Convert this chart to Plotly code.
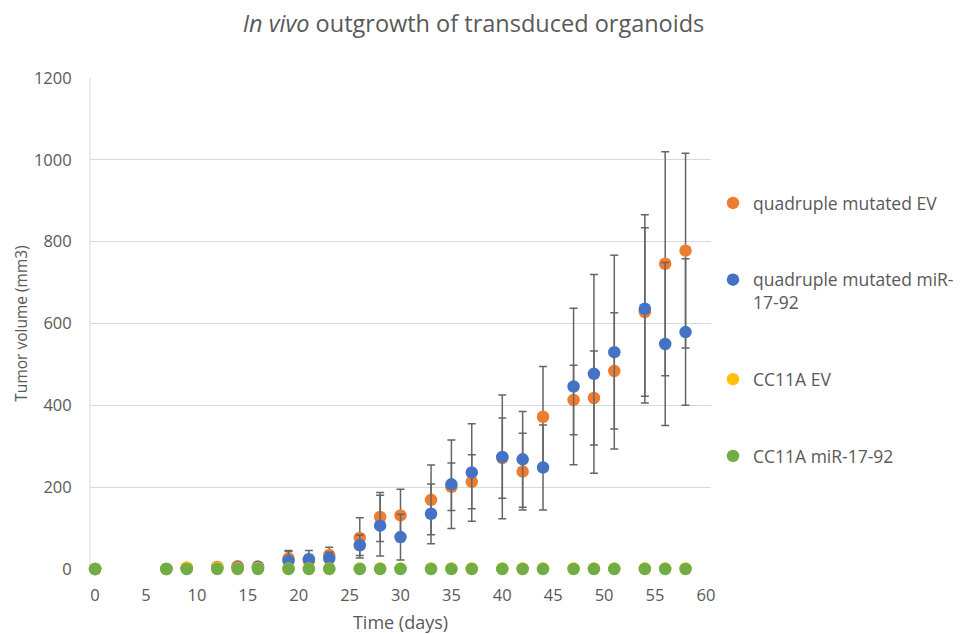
import plotly.graph_objects as go

days = [0, 7, 9, 12, 14, 16, 19, 21, 23, 26, 28, 30, 33, 35, 37, 40, 42, 44, 47, 49, 51, 54, 56, 58]

quad_ev = [0, 0, 3, 5, 7, 6, 26, 20, 34, 76, 127, 131, 169, 201, 213, 271, 238, 372, 413, 418, 484, 628, 746, 778]
quad_ev_err = [0, 0, 2, 3, 4, 4, 17, 15, 19, 49, 60, 64, 85, 58, 66, 98, 94, 123, 85, 115, 142, 206, 274, 238]

quad_mir = [0, 0, 1, 3, 4, 5, 20, 24, 26, 58, 106, 78, 135, 207, 236, 274, 268, 248, 446, 477, 530, 636, 550, 579]
quad_mir_err = [0, 0, 1, 2, 3, 3, 25, 21, 15, 25, 74, 56, 73, 108, 119, 151, 117, 104, 191, 243, 237, 230, 199, 179]

cc11a_ev = [0, 0, 3, 3, 2, 2, 1, 1, 1, 1, 1, 1, 1, 1, 1, 1, 1, 1, 1, 1, 1, 1, 1, 1]
cc11a_mir = [0, 0, 0, 0, 0, 0, 0, 0, 0, 0, 0, 0, 0, 0, 0, 0, 0, 0, 0, 0, 0, 0, 0, 0]

names = ["quadruple mutated EV", "quadruple mutated miR-<br>17-92", "CC11A EV", "CC11A miR-17-92"]
colors = ["#ED7D31", "#4472C4", "#FFC000", "#70AD47"]

x_ticks = [0, 5, 10, 15, 20, 25, 30, 35, 40, 45, 50, 55, 60]
y_ticks = [0, 200, 400, 600, 800, 1000, 1200]

FONT = "Open Sans"
GRAY = "#595959"

fig = go.Figure()
series = [(quad_ev, quad_ev_err), (quad_mir, quad_mir_err), (cc11a_ev, None), (cc11a_mir, None)]
for i, ((vals, errs), name, col) in enumerate(zip(series, names, colors)):
    kw = {}
    if errs is not None:
        kw["error_y"] = dict(type="data", array=errs, symmetric=True,
                             color="#666666", thickness=1.5, width=4)
    fig.add_trace(go.Scatter(
        x=days, y=vals, mode="markers", name=name, legendgroup=f"g{i}",
        marker=dict(color=col, size=12.5, line=dict(width=0)),
        cliponaxis=False, **kw))

# page body has an 8px margin, so the figure is sized/positioned to compensate
fig.update_layout(
    width=955, height=626,
    margin=dict(l=82, r=252, t=70, b=65, autoexpand=False),
    paper_bgcolor="white", plot_bgcolor="white",
    font=dict(family=FONT, color=GRAY, size=16),
    title=dict(text="<i>In vivo</i> outgrowth of transduced organoids",
               x=0.4874, xanchor="center", y=0.975, yanchor="middle",
               font=dict(size=23.5, color=GRAY, family=FONT)),
    legend=dict(x=1.0032, xanchor="left", y=0.782, yanchor="top",
                font=dict(size=17.5, color=GRAY, family=FONT),
                tracegroupgap=51, valign="top", bgcolor="rgba(0,0,0,0)"),
    xaxis=dict(range=[-0.5, 60.5], tickvals=x_ticks, ticktext=[str(t) for t in x_ticks],
               showgrid=False, zeroline=False, showline=False,
               ticks="outside", ticklen=11, tickcolor="rgba(0,0,0,0)",
               automargin=False,
               title=dict(text="Time (days)", font=dict(size=18, color=GRAY), standoff=14),
               tickfont=dict(size=16.5, color=GRAY)),
    yaxis=dict(range=[0, 1200], tickvals=y_ticks, ticktext=[str(t) for t in y_ticks],
               showgrid=True, gridcolor="#D9D9D9", gridwidth=1,
               zeroline=False, showline=False,
               ticks="outside", ticklen=14, tickcolor="rgba(0,0,0,0)",
               automargin=False,
               title=dict(text="Tumor volume (mm3)", font=dict(size=15.5, color=GRAY), standoff=2),
               tickfont=dict(size=16.5, color=GRAY)),
)

fig.add_shape(type="line", xref="paper", yref="paper", x0=0, x1=0, y0=0, y1=1,
              line=dict(color="#D9D9D9", width=1), layer="below")

fig.write_html("out.html")
